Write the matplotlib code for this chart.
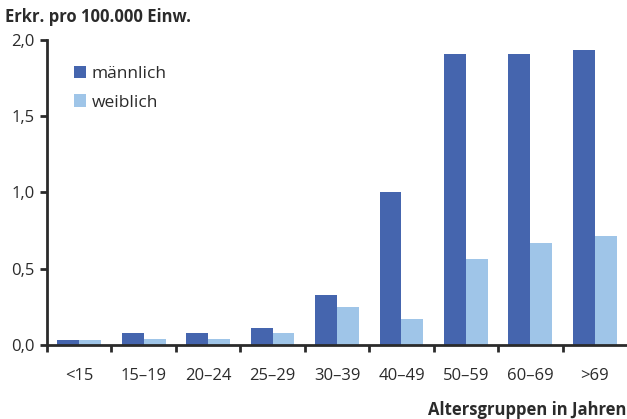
import matplotlib
matplotlib.use("Agg")
import matplotlib.pyplot as plt
import numpy as np

plt.rcParams['font.family'] = ['Open Sans', 'DejaVu Sans']

groups = ["<15", "15\u201319", "20\u201324", "25\u201329", "30\u201339",
          "40\u201349", "50\u201359", "60\u201369", ">69"]
maennlich = [0.03, 0.08, 0.08, 0.11, 0.33, 1.00, 1.91, 1.91, 1.93]
weiblich = [0.03, 0.04, 0.04, 0.08, 0.245, 0.17, 0.56, 0.665, 0.715]
yticks = [0.0, 0.5, 1.0, 1.5, 2.0]
yticklabels = ["0,0", "0,5", "1,0", "1,5", "2,0"]

col_m = "#4565ae"
col_w = "#9fc5e8"
textcol = "#2b2b2b"

fig = plt.figure(figsize=(6.27, 4.19), dpi=100)
ax = fig.add_axes([0.075, 0.177, 0.925, 0.728])

x = np.arange(len(groups))
w = 0.34
ax.bar(x - w / 2, maennlich, width=w, color=col_m, label="männlich")
ax.bar(x + w / 2, weiblich, width=w, color=col_w, label="weiblich")

ax.set_xlim(-0.5, len(groups) - 0.5)
ax.set_ylim(0, 2.0)
ax.set_yticks(yticks)
ax.set_yticklabels(yticklabels, fontsize=12, color=textcol)
ax.set_xticks(x)
ax.set_xticklabels(groups, fontsize=12, color=textcol)
ax.tick_params(axis='x', length=0, pad=17)
ax.set_xticks(np.arange(len(groups)) - 0.5, minor=True)
ax.tick_params(axis='x', which='minor', length=5, width=2, color=textcol, direction='out')
ax.tick_params(axis='y', length=5, width=2, color=textcol, pad=4)

for s in ['top', 'right']:
    ax.spines[s].set_visible(False)
for s in ['left', 'bottom']:
    ax.spines[s].set_linewidth(2)
    ax.spines[s].set_color(textcol)

leg = ax.legend(loc='upper left', bbox_to_anchor=(0.02, 0.965), frameon=False,
                fontsize=12.5, handlelength=0.7, handleheight=0.7,
                handletextpad=0.3, labelspacing=0.7)
for t in leg.get_texts():
    t.set_color(textcol)

fig.text(0.008, 0.96, "Erkr. pro 100.000 Einw.", fontsize=12, fontweight='bold',
         color=textcol, ha='left', va='center')
fig.text(0.999, 0.022, "Altersgruppen in Jahren", fontsize=12, fontweight='bold',
         color=textcol, ha='right', va='center')

fig.savefig("out.png", dpi=100)
